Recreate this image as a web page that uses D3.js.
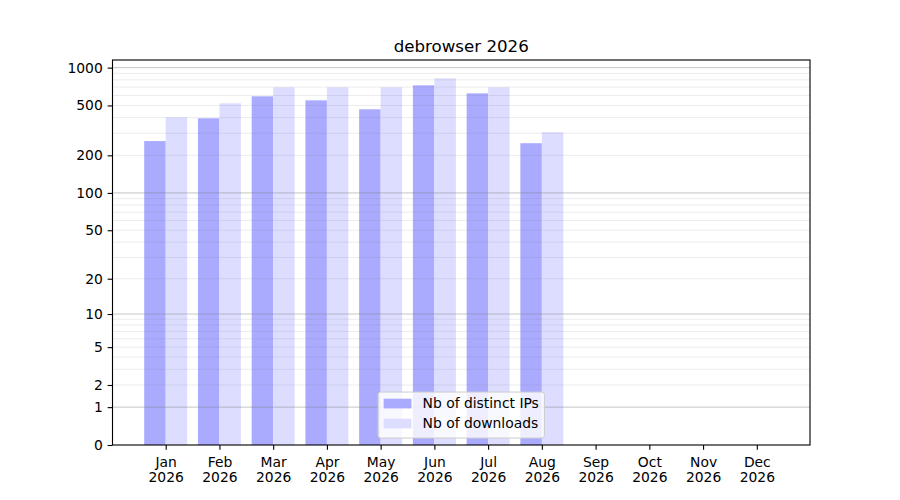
<!DOCTYPE html>
<html>
<head>
<meta charset="utf-8">
<script src="https://cdn.jsdelivr.net/npm/d3@7"></script>
<style>
  body { margin: 0; background: #fff; }
  text { font-family: "DejaVu Sans", sans-serif; }
</style>
</head>
<body>
<script>
const title = 'debrowser 2026';
const months = ['Jan', 'Feb', 'Mar', 'Apr', 'May', 'Jun', 'Jul', 'Aug', 'Sep', 'Oct', 'Nov', 'Dec'];
const year = '2026';
const distinct_ips = [260, 395, 591, 549, 466, 723, 624, 250, 0, 0, 0, 0];
const downloads = [402, 520, 697, 697, 697, 822, 697, 306, 0, 0, 0, 0];
const y_ticks = [0, 1, 2, 5, 10, 20, 50, 100, 200, 500, 1000];
const y_major_grid = [1, 10, 100, 1000];
const legend_labels = ['Nb of distinct IPs', 'Nb of downloads'];
const colors = ['#aaaaff', '#ddddff'];

var W = 900, H = 500;
var margin = {top: 60, right: 90, bottom: 55, left: 112.5}
  , width = W - margin.left - margin.right
  , height = H - margin.top - margin.bottom;

var pt = 100 / 72; // matplotlib points -> px
var fs = 10 * pt;
var tick_len = 3.5 * pt;
var bar_w = 0.4;

var svg = d3.select('body').append('svg')
  .attr('width', W)
  .attr('height', H);

var g = svg.append('g')
  .attr('transform', 'translate(' + margin.left + ',' + margin.top + ')');

// x: month index, 5% margin around the bars
var x_lo = -bar_w, x_hi = months.length - 1 + bar_w;
var x_pad = (x_hi - x_lo) * 0.05;
var xScale = d3.scaleLinear()
  .domain([x_lo - x_pad, x_hi + x_pad])
  .range([0, width]);

// y: symlog (log(1+x)), 5% headroom in transformed space
var ymax = d3.max(downloads.concat(distinct_ips));
var y_top = Math.expm1(Math.log1p(ymax) * 1.05);
var yScale = d3.scaleSymlog()
  .constant(1)
  .domain([0, y_top])
  .range([height, 0]);

// bars
var series = [distinct_ips, downloads];
series.forEach((vals, s) => {
  g.append('g')
    .selectAll('rect')
    .data(vals)
    .enter()
    .append('rect')
    .attr('x', (d, i) => xScale(i - bar_w + s * bar_w))
    .attr('width', (d, i) => xScale(i + bar_w) - xScale(i))
    .attr('y', d => yScale(d))
    .attr('height', d => height - yScale(d))
    .attr('fill', colors[s]);
});

// minor grid: 2..9 of each decade
var minor = [];
[1, 10, 100].forEach(dec => {
  for (var k = 2; k <= 9; k++) minor.push(k * dec);
});
g.append('g')
  .selectAll('line')
  .data(minor.filter(v => v <= y_top))
  .enter()
  .append('line')
  .attr('x1', 0).attr('x2', width)
  .attr('y1', d => yScale(d)).attr('y2', d => yScale(d))
  .attr('stroke', '#808080')
  .attr('stroke-opacity', 0.15)
  .attr('stroke-width', 1);

g.append('g')
  .selectAll('line')
  .data(y_major_grid)
  .enter()
  .append('line')
  .attr('x1', 0).attr('x2', width)
  .attr('y1', d => yScale(d)).attr('y2', d => yScale(d))
  .attr('stroke', '#808080')
  .attr('stroke-opacity', 0.45)
  .attr('stroke-width', 1);

// axes
var yAxis = d3.axisLeft(yScale)
  .tickValues(y_ticks)
  .tickFormat(d3.format('d'))
  .tickSize(tick_len)
  .tickPadding(tick_len);
var gy = g.append('g').call(yAxis);

var xAxis = d3.axisBottom(xScale)
  .tickValues(d3.range(months.length))
  .tickFormat('')
  .tickSize(tick_len);
var gx = g.append('g')
  .attr('transform', 'translate(0,' + height + ')')
  .call(xAxis);

[gx, gy].forEach(ax => {
  ax.select('.domain').remove();
  ax.selectAll('line').attr('stroke', '#000').attr('stroke-width', 0.8 * pt);
  ax.selectAll('text')
    .attr('font-family', '"DejaVu Sans", sans-serif')
    .attr('font-size', fs)
    .attr('fill', '#000');
});

gx.selectAll('.tick')
  .append('text')
  .attr('text-anchor', 'middle')
  .attr('font-family', '"DejaVu Sans", sans-serif')
  .attr('font-size', fs)
  .attr('fill', '#000')
  .selectAll('tspan')
  .data((d, i) => [months[i], year])
  .enter()
  .append('tspan')
  .attr('x', 0)
  .attr('y', (d, j) => 21.7 + j * 15.5)
  .text(d => d);

// frame
g.append('rect')
  .attr('width', width)
  .attr('height', height)
  .attr('fill', 'none')
  .attr('stroke', '#000')
  .attr('stroke-width', 0.8 * pt);

// title
svg.append('text')
  .attr('x', margin.left + width / 2)
  .attr('y', margin.top - 6 * pt)
  .attr('text-anchor', 'middle')
  .attr('font-size', 12 * pt)
  .attr('fill', '#000')
  .text(title);

// legend, lower center
var leg = g.append('g');
var leg_box = leg.append('rect')
  .attr('rx', 2.5)
  .attr('fill', '#fff')
  .attr('fill-opacity', 0.8)
  .attr('stroke', '#cccccc')
  .attr('stroke-width', 1);
var row_h = 20;
var pad = 0.4 * fs, handle_w = 2 * fs, text_pad = 0.8 * fs;
var items = leg.selectAll('g.item')
  .data(legend_labels)
  .enter()
  .append('g')
  .attr('class', 'item')
  .attr('transform', (d, i) => 'translate(0,' + (i * row_h) + ')');
items.append('rect')
  .attr('x', pad)
  .attr('y', -0.35 * fs)
  .attr('width', handle_w)
  .attr('height', 0.7 * fs)
  .attr('fill', (d, i) => colors[i]);
items.append('text')
  .attr('x', pad + handle_w + text_pad)
  .attr('y', 0)
  .attr('dy', '0.35em')
  .attr('font-size', fs)
  .attr('fill', '#000')
  .text(d => d);

var text_w = d3.max(items.selectAll('text').nodes(), n => n.getComputedTextLength());
var box_w = pad + handle_w + text_pad + text_w + pad;
var box_h = 46;
leg_box.attr('x', 0).attr('y', -11.5).attr('width', box_w).attr('height', box_h);
leg.attr('transform', 'translate(' + (width / 2 - box_w / 2) + ',' + (height - 0.5 * fs - box_h + 11.5) + ')');
</script>
</body>
</html>
